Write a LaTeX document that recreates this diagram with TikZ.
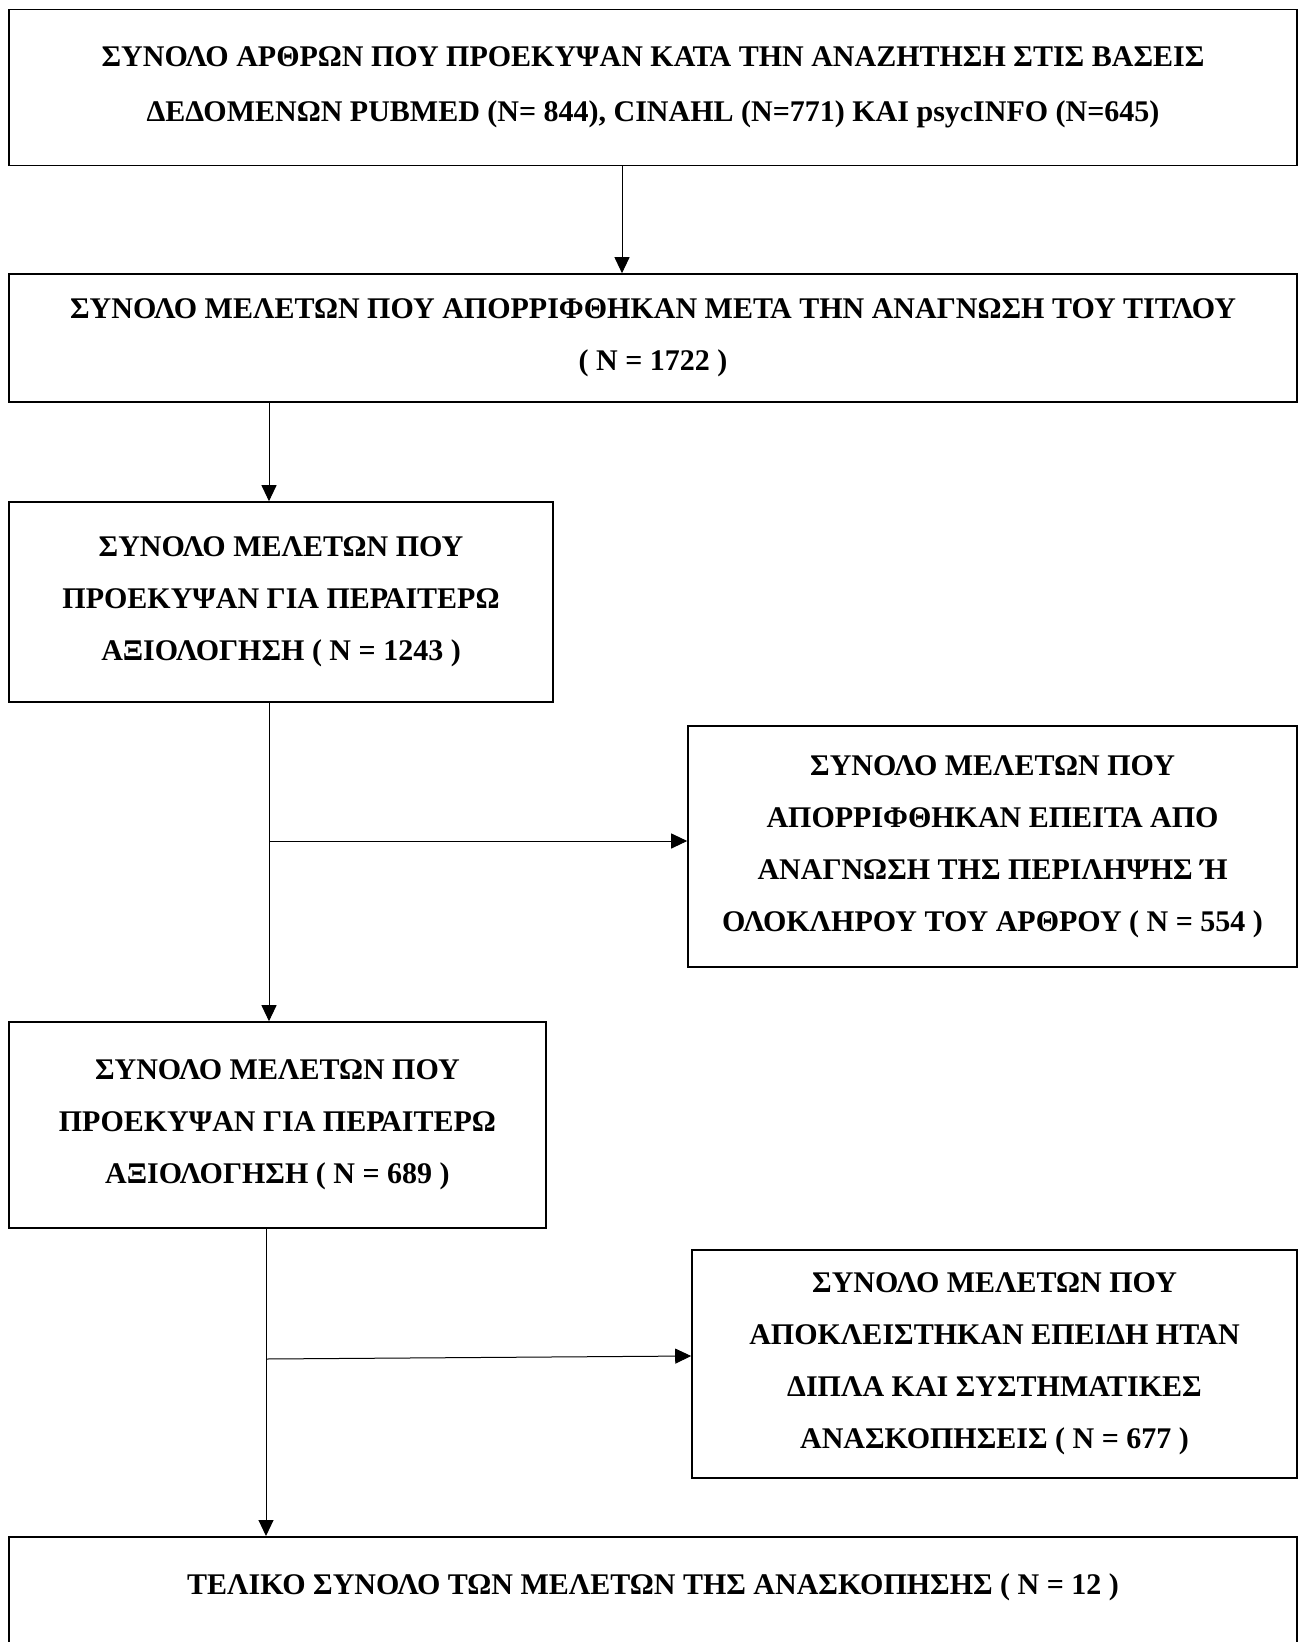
\documentclass[tikz,border=0pt]{standalone}
\usepackage{fontspec}
\setmainfont{Liberation Serif}
\usepackage{tikz}
\usetikzlibrary{arrows.meta, positioning, calc}
\tikzset{
	flowbox/.style={rectangle, draw=black, line width=0.8pt, align=center, inner sep=0pt, text centered, font=\fontsize{15pt}{26pt}\selectfont\bfseries},
	flowarrow/.style={-{Triangle[length=8pt, width=7.5pt]}, line width=0.5pt},
	flowline/.style={line width=0.5pt},
}

\begin{document}
\begin{tikzpicture}[x=0.5pt, y=-0.5pt]
	\useasboundingbox (0,0) rectangle (1306,1642);
	% boxes
	\node[flowbox, minimum width=644pt, minimum height=78pt, font=\fontsize{15pt}{27.5pt}\selectfont\bfseries] (search) at (653,87.5)
		{ΣΥΝΟΛΟ ΑΡΘΡΩΝ ΠΟΥ ΠΡΟΕΚΥΨΑΝ ΚΑΤΑ ΤΗΝ ΑΝΑΖΗΤΗΣΗ ΣΤΙΣ ΒΑΣΕΙΣ\\ΔΕΔΟΜΕΝΩΝ PUBMED (N= 844), CINAHL (N=771) ΚΑΙ psycINFO (N=645)};
	\node[flowbox, minimum width=644pt, minimum height=64pt] (titles) at (653,338)
		{ΣΥΝΟΛΟ ΜΕΛΕΤΩΝ ΠΟΥ ΑΠΟΡΡΙΦΘΗΚΑΝ ΜΕΤΑ ΤΗΝ ΑΝΑΓΝΩΣΗ ΤΟΥ ΤΙΤΛΟΥ\\( N = 1722 )};
	\node[flowbox, minimum width=272pt, minimum height=100pt] (eligible) at (281,602)
		{ΣΥΝΟΛΟ ΜΕΛΕΤΩΝ ΠΟΥ\\ΠΡΟΕΚΥΨΑΝ ΓΙΑ ΠΕΡΑΙΤΕΡΩ\\ΑΞΙΟΛΟΓΗΣΗ ( N = 1243 )};
	\node[flowbox, minimum width=304.5pt, minimum height=120.5pt] (abstracts) at (992.5,846.5)
		{ΣΥΝΟΛΟ ΜΕΛΕΤΩΝ ΠΟΥ\\ΑΠΟΡΡΙΦΘΗΚΑΝ ΕΠΕΙΤΑ ΑΠΟ\\ΑΝΑΓΝΩΣΗ ΤΗΣ ΠΕΡΙΛΗΨΗΣ Ή\\ΟΛΟΚΛΗΡΟΥ ΤΟΥ ΑΡΘΡΟΥ ( N = 554 )};
	\node[flowbox, minimum width=268.5pt, minimum height=103pt] (fulltext) at (277.4,1125)
		{ΣΥΝΟΛΟ ΜΕΛΕΤΩΝ ΠΟΥ\\ΠΡΟΕΚΥΨΑΝ ΓΙΑ ΠΕΡΑΙΤΕΡΩ\\ΑΞΙΟΛΟΓΗΣΗ ( N = 689 )};
	\node[flowbox, minimum width=302.5pt, minimum height=114pt] (duplicates) at (994.5,1364)
		{ΣΥΝΟΛΟ ΜΕΛΕΤΩΝ ΠΟΥ\\ΑΠΟΚΛΕΙΣΤΗΚΑΝ ΕΠΕΙΔΗ ΗΤΑΝ\\ΔΙΠΛΑ ΚΑΙ ΣΥΣΤΗΜΑΤΙΚΕΣ\\ΑΝΑΣΚΟΠΗΣΕΙΣ ( N = 677 )};
	\node[flowbox, anchor=north, minimum width=644pt, text height=29pt, text depth=60pt] (final) at (653,1536)
		{ΤΕΛΙΚΟ ΣΥΝΟΛΟ ΤΩΝ ΜΕΛΕΤΩΝ ΤΗΣ ΑΝΑΣΚΟΠΗΣΗΣ ( N = 12 )};
	% connectors
	\coordinate (trunkA) at (269,0);
	\coordinate (trunkB) at (266,0);
	\draw[flowarrow] ([xshift=-15.5pt]search.south) -- ([xshift=-15.5pt]search.south |- titles.north);
	\draw[flowarrow] (trunkA |- titles.south) -- (trunkA |- eligible.north);
	\draw[flowarrow] (trunkA |- eligible.south) -- (trunkA |- fulltext.north);
	\draw[flowarrow] ([yshift=2.75pt]trunkA |- abstracts.west) -- ([yshift=2.75pt]abstracts.west);
	\draw[flowarrow] (trunkB |- fulltext.south) -- (trunkB |- final.north);
	\draw[flowarrow] ([yshift=2.5pt]trunkB |- duplicates.west) -- ([yshift=4pt]duplicates.west);
\end{tikzpicture}
\end{document}
